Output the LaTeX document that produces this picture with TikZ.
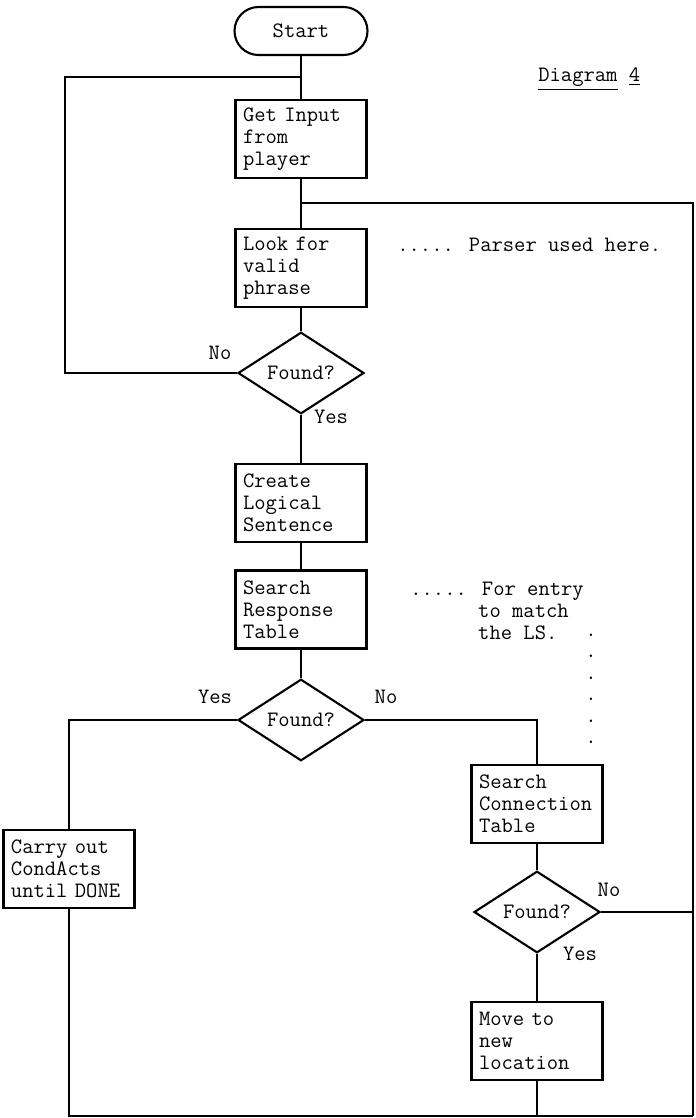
\documentclass[tikz,border=0pt]{standalone}
\usepackage{tikz}
\usetikzlibrary{shapes.geometric}
\pgfdeclarelayer{bg}
\pgfsetlayers{bg,main}
\tikzset{
    every node/.style={font=\ttfamily\fontsize{12.5}{12.5}\selectfont, inner sep=0mm}
}
\tikzset{
    proc/.style={rectangle, draw, line width=1.2pt, text width=2.32cm, align=left, inner xsep=1.5mm, minimum height=1.56cm},
    term/.style={rectangle, draw, line width=1.2pt, rounded corners=4.8mm, minimum width=2.66cm, minimum height=0.96cm},
    test/.style={diamond, draw, line width=1.2pt, minimum width=2.52cm, minimum height=1.46cm},
    flow/.style={line width=1.2pt}
}

\begin{document}
\begin{tikzpicture}
        \useasboundingbox (0cm, 0cm) rectangle (13.90cm, -22.36cm);
        \node (start) [term] at (6.02cm, -0.62cm) {Start};
        \node (title) [anchor=west] at (10.76cm, -1.58cm) {\underline{Diagram} \underline{4}};
        \node (input) [proc] at (6.02cm, -2.78cm) {Get Input\\from\\player};
        \node (look) [proc] at (6.02cm, -5.36cm) {Look for\\valid\\phrase};
        \node (parser) [anchor=west] at (7.94cm, -4.90cm) {..... Parser used here.};
        \node (d1) [test] at (6.02cm, -7.46cm) {Found?};
        \node (no1) at (4.40cm, -7.06cm) {No};
        \node (yes1) at (6.62cm, -8.34cm) {Yes};
        \node (create) [proc] at (6.02cm, -10.06cm) {Create\\Logical\\Sentence};
        \node (resp) [proc] at (6.02cm, -12.19cm) {Search\\Response\\Table};
        \node (entry) [anchor=west, align=left] at (8.20cm, -12.22cm) {..... For entry\\\phantom{......}to match\\\phantom{......}the LS.};
        \foreach \y [count=\i] in {12.70, 13.13, 13.56, 13.99, 14.42, 14.85}
                \node (lead\i) at (11.82cm, -\y cm) {.};
        \node (d2) [test] at (6.02cm, -14.40cm) {Found?};
        \node (yes2) at (4.30cm, -13.94cm) {Yes};
        \node (no2) at (7.72cm, -13.94cm) {No};
        \node (conn) [proc] at (10.74cm, -16.08cm) {Search\\Connection\\Table};
        \node (carry) [proc] at (1.38cm, -17.38cm) {Carry out\\CondActs\\until DONE};
        \node (d3) [test] at (10.74cm, -18.24cm) {Found?};
        \node (no3) at (12.18cm, -17.80cm) {No};
        \node (yes3) at (11.60cm, -19.08cm) {Yes};
        \node (move) [proc] at (10.74cm, -20.82cm) {Move to\\new\\location};
        \coordinate (j1) at (6.02cm, -1.54cm);
        \coordinate (lt) at (1.30cm, -1.54cm);
        \coordinate (j2) at (6.02cm, -4.06cm);
        \coordinate (rt) at (13.86cm, -4.06cm);
        \coordinate (rb) at (13.86cm, -22.32cm);
        \begin{pgfonlayer}{bg}
                \draw (start) edge [flow] (input);
                \draw (input) edge [flow] (look);
                \draw (look) edge [flow] (d1);
                \draw (d1) edge [flow] (create);
                \draw (create) edge [flow] (resp);
                \draw (resp) edge [flow] (d2);
                \draw (conn) edge [flow] (d3);
                \draw (d3) edge [flow] (move);
                \draw [flow] (d1.west) -| (lt) -- (j1);
                \draw [flow] (j2) -- (rt) -- (rb);
                \draw [flow] (d2.west) -| (carry.north);
                \draw [flow] (d2.east) -| (conn.north);
                \draw [flow] (carry.south) |- (rb);
                \draw [flow] (move.south) -- (move.south |- rb);
                \draw [flow] (d3.east) -- (d3.east -| rb);
        \end{pgfonlayer}
\end{tikzpicture}
\end{document}
